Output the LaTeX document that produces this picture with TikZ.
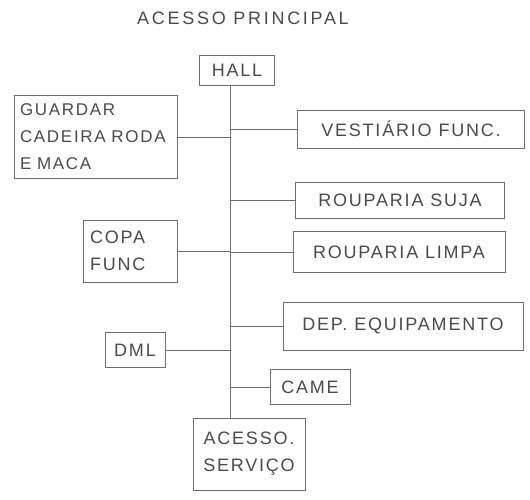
\documentclass[tikz,border=0pt]{standalone}
\usepackage{fontspec}
\setmainfont{Liberation Sans}[LetterSpace=10.0]
\usetikzlibrary{positioning}

\definecolor{pencil}{HTML}{6E6E6E}
\definecolor{lead}{HTML}{4A4A4A}

\begin{document}
\begin{tikzpicture}[x=1pt, y=-1pt, font=\fontsize{18}{27}\selectfont,
    room/.style={draw=pencil, line width=0.9pt, text=lead, inner sep=4pt},
    link/.style={draw=pencil, line width=0.9pt}]
\useasboundingbox (0,0) rectangle (530,499);
\node[text=lead, font=\fontsize{18}{27}\selectfont\addfontfeatures{LetterSpace=15.0}] (title) at (243,18)
    {ACESSO PRINCIPAL};
%
\node[room, minimum width=75, minimum height=30] (hall) at (237,70) {HALL};
\node[room, minimum width=112, minimum height=72, align=center] (servico) at (249,454) {ACESSO.\\SERVIÇO};
\coordinate (top) at (230,85);
\coordinate (bottom) at (230,418);
\draw[link] (top) -- (bottom);
%
% rooms on the left of the corridor
\node[room, minimum width=163, minimum height=83, text width=152, align=left,
    font=\fontsize{17}{27}\selectfont] (guardar) at (96,137)
    {GUARDAR\\CADEIRA RODA\\E MACA};
\node[room, minimum width=94, minimum height=62, text width=80, align=left] (copa) at (130,251) {COPA\\FUNC};
\node[room, minimum width=60, minimum height=35] (dml) at (135,350) {DML};
%
% rooms on the right of the corridor
\node[room, minimum width=227, minimum height=38] (vest) at (411,129) {VESTIÁRIO FUNC.};
\node[room, minimum width=209, minimum height=36] (suja) at (400,200) {ROUPARIA SUJA};
\node[room, minimum width=212, minimum height=41] (limpa) at (399,252) {ROUPARIA LIMPA};
\node[room, minimum width=240, minimum height=48] (dep) at (403,326) {DEP. EQUIPAMENTO};
\node[room, minimum width=80, minimum height=35] (came) at (310,387) {CAME};
%
\foreach \r in {guardar, copa, dml}
    \draw[link] (\r.east) -- (\r.east -| top);
\foreach \r in {vest, suja, limpa, dep, came}
    \draw[link] (\r.west) -- (\r.west -| top);
\end{tikzpicture}
\end{document}
